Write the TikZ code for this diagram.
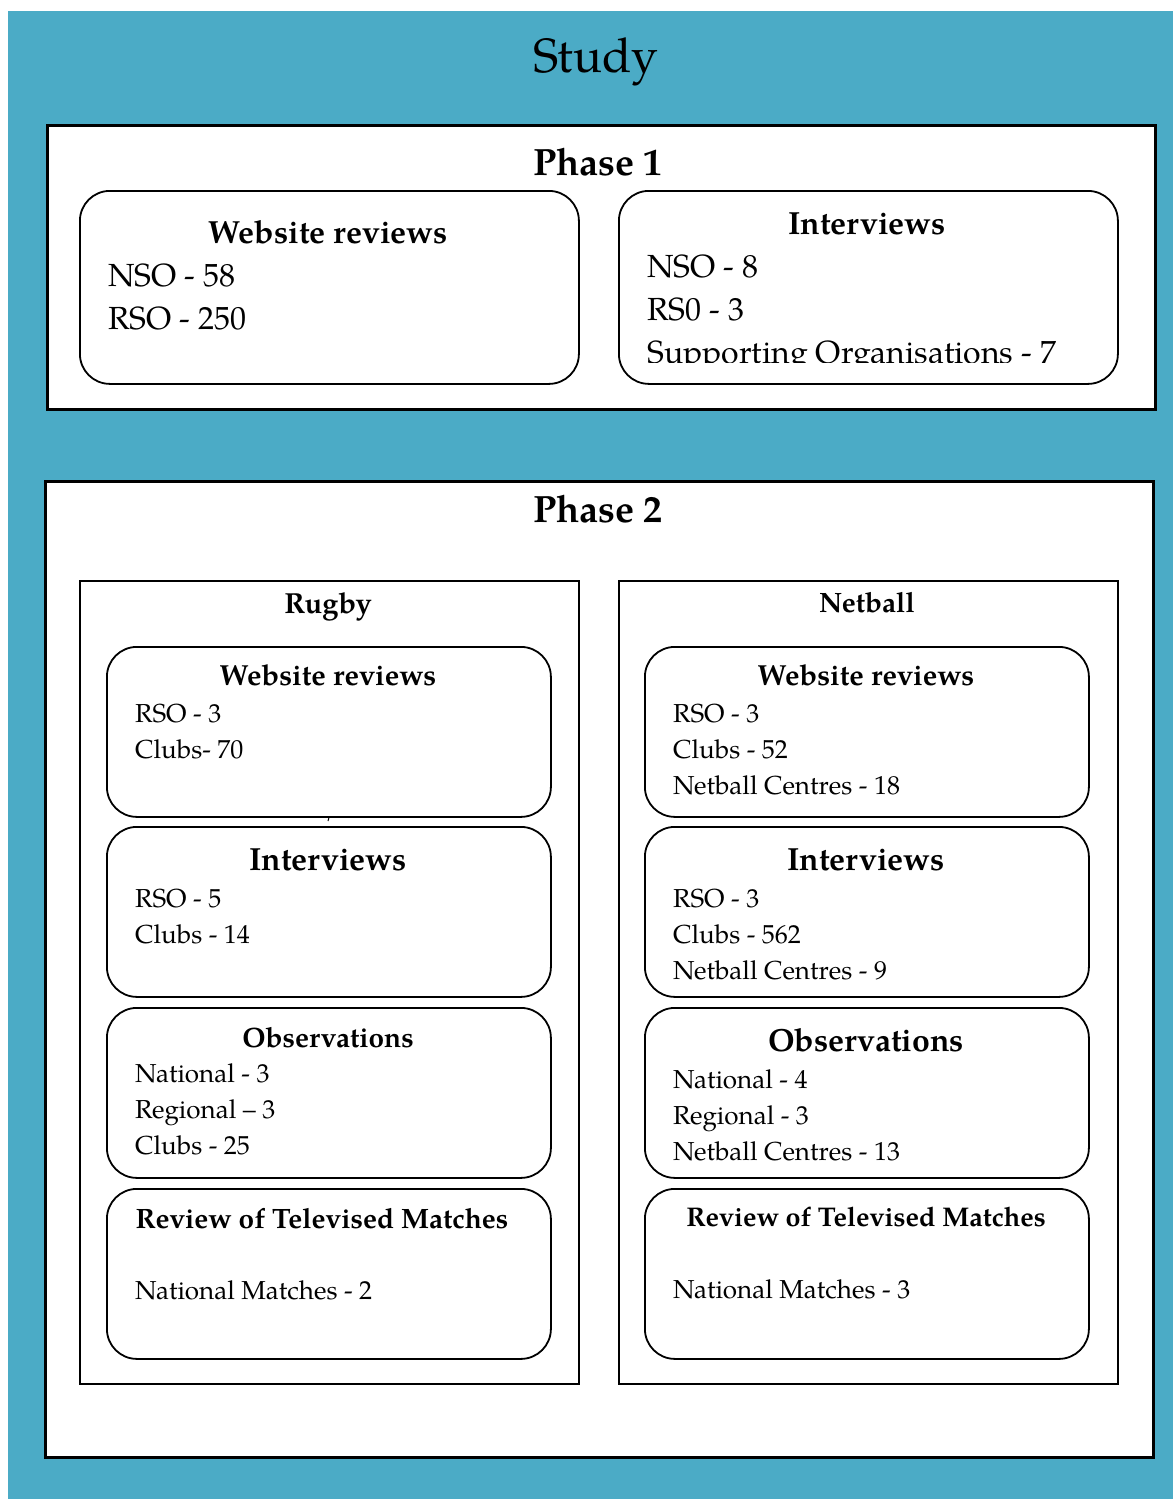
\documentclass[tikz,border=0pt]{standalone}
\usepackage{fontspec}
\setmainfont{TeX Gyre Pagella}
\definecolor{studyteal}{RGB}{75,171,198}
\tikzset{
  phasebox/.style={draw=black, line width=2.6pt, fill=white, anchor=north west, inner sep=0pt},
  sportbox/.style={draw=black, line width=1.5pt, fill=white, anchor=north west, inner sep=0pt},
  rbox/.style={draw=black, line width=1.8pt, fill=white, rounded corners=30pt, anchor=north west, inner sep=0pt},
  txt/.style={inner sep=0pt, anchor=base west},
  ctitle/.style={inner sep=0pt, anchor=base, font=\bfseries},
}
\newcommand{\fs}[1]{\fontsize{#1}{#1}\selectfont}
\begin{document}
\begin{tikzpicture}[x=1pt,y=-1pt]
\useasboundingbox (0,0) rectangle (1173,1499);
\fill[white] (0,0) rectangle (1173,1499);
\node[fill=studyteal, minimum width=1165pt, minimum height=1488pt, anchor=north west, inner sep=0pt] (bg) at (8,11) {};
\node[inner sep=0pt, anchor=base, font=\fs{48}] (study) at (596,72) {Study};

% Phase 1
\node[phasebox, minimum width=1108pt, minimum height=284pt] (p1) at (46,124) {};
\node[ctitle, font=\bfseries\fs{38}] (p1t) at (598,175) {Phase 1};
\node[rbox, minimum width=499pt, minimum height=193pt] (p1w) at (79,190) {};
\node[rbox, minimum width=499pt, minimum height=193pt] (p1i) at (618,190) {};
\node[ctitle, font=\bfseries\fs{32}] (p1wt) at (328,243) {Website reviews};
\node[txt, font=\fs{32}] (p1w1) at (108,286) {NSO - 58};
\node[txt, font=\fs{32}] (p1w2) at (108,329) {RSO - 250};
\node[ctitle, font=\bfseries\fs{32}] (p1it) at (867,234) {Interviews};
\node[txt, font=\fs{32}] (p1i1) at (647,277) {NSO - 8};
\node[txt, font=\fs{32}] (p1i2) at (647,320) {RS0 - 3};
\begin{scope}
\clip (620,330) rectangle (1115,362);
\node[txt, font=\fs{32}] (p1i3) at (647,363) {Supporting Organisations - 7};
\end{scope}

% Phase 2
\node[phasebox, minimum width=1108pt, minimum height=976pt] (p2) at (44,480) {};
\node[ctitle, font=\bfseries\fs{38}] (p2t) at (598,522) {Phase 2};

% Rugby
\node[sportbox, minimum width=499pt, minimum height=803pt] (rug) at (79,580) {};
\node[ctitle, font=\bfseries\fs{29}] (rugt) at (328,613) {Rugby};
\node[rbox, minimum width=444pt, minimum height=170pt] (rw) at (106,646) {};
\node[rbox, minimum width=444pt, minimum height=170pt] (ri) at (106,826) {};
\node[rbox, minimum width=444pt, minimum height=170pt] (ro) at (106,1007) {};
\node[rbox, minimum width=444pt, minimum height=170pt] (rr) at (106,1188) {};
\coordinate (rtick) at (328,821);
\draw[line width=1pt] (rw.south) -- (rtick);

\node[ctitle, font=\bfseries\fs{29}] (rwt) at (328,685) {Website reviews};
\node[txt, font=\fs{26}] (rw1) at (135,722) {RSO - 3};
\node[txt, font=\fs{26}] (rw2) at (135,758) {Clubs- 70};

\node[ctitle, font=\bfseries\fs{32}] (rit) at (328,870) {Interviews};
\node[txt, font=\fs{26}] (ri1) at (135,907) {RSO - 5};
\node[txt, font=\fs{26}] (ri2) at (135,943) {Clubs - 14};

\node[ctitle, font=\bfseries\fs{28}] (rot) at (328,1047) {Observations};
\node[txt, font=\fs{26}] (ro1) at (135,1082) {National - 3};
\node[txt, font=\fs{26}] (ro2) at (135,1118) {Regional -- 3};
\node[txt, font=\fs{26}] (ro3) at (135,1154) {Clubs - 25};

\node[ctitle, font=\bfseries\fs{28}] (rrt) at (322,1228) {Review of Televised Matches};
\node[txt, font=\fs{26}] (rr1) at (135,1299) {National Matches - 2};

% Netball
\node[sportbox, minimum width=499pt, minimum height=803pt] (net) at (618,580) {};
\node[ctitle, font=\bfseries\fs{28}] (nett) at (867,612) {Netball};
\node[rbox, minimum width=444pt, minimum height=170pt] (nw) at (644,646) {};
\node[rbox, minimum width=444pt, minimum height=170pt] (ni) at (644,826) {};
\node[rbox, minimum width=444pt, minimum height=170pt] (no) at (644,1007) {};
\node[rbox, minimum width=444pt, minimum height=170pt] (nr) at (644,1188) {};

\node[ctitle, font=\bfseries\fs{29}] (nwt) at (866,685) {Website reviews};
\node[txt, font=\fs{26}] (nw1) at (673,722) {RSO - 3};
\node[txt, font=\fs{26}] (nw2) at (673,758) {Clubs - 52};
\node[txt, font=\fs{26}] (nw3) at (673,794) {Netball Centres - 18};

\node[ctitle, font=\bfseries\fs{32}] (nit) at (866,870) {Interviews};
\node[txt, font=\fs{26}] (ni1) at (673,907) {RSO - 3};
\node[txt, font=\fs{26}] (ni2) at (673,943) {Clubs - 562};
\node[txt, font=\fs{26}] (ni3) at (673,979) {Netball Centres - 9};

\node[ctitle, font=\bfseries\fs{32}] (not) at (866,1051) {Observations};
\node[txt, font=\fs{26}] (no1) at (673,1088) {National - 4};
\node[txt, font=\fs{26}] (no2) at (673,1124) {Regional - 3};
\node[txt, font=\fs{26}] (no3) at (673,1160) {Netball Centres - 13};

\node[ctitle, font=\bfseries\fs{27}] (nrt) at (866,1226) {Review of Televised Matches};
\node[txt, font=\fs{26}] (nr1) at (673,1298) {National Matches - 3};
\end{tikzpicture}
\end{document}
